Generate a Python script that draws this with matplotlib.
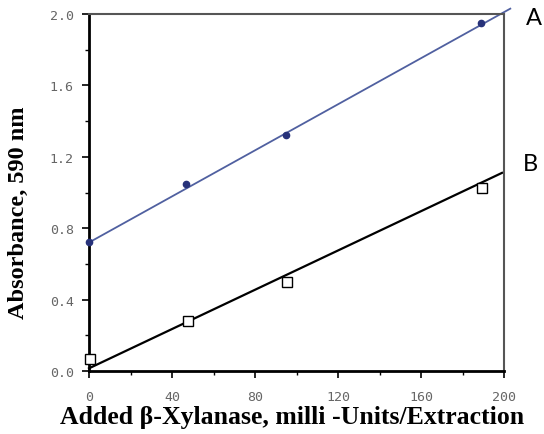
import numpy as np
import matplotlib.pyplot as plt
from matplotlib.ticker import MultipleLocator

xa = [0, 46.5, 95, 189]
ya = [0.72, 1.05, 1.32, 1.95]
xb = [0.5, 47.5, 95.4, 189.4]
yb = [0.067, 0.282, 0.50, 1.025]

line_ax = [0, 203]
line_ay = [0.72, 2.03]
line_bx = [0, 199]
line_by = [0.015, 1.11]

xticks = [0, 40, 80, 120, 160, 200]
yticks = [0.0, 0.4, 0.8, 1.2, 1.6, 2.0]

fig = plt.figure(figsize=(5.44, 4.35), dpi=100)
ax = fig.add_axes([0.1636, 0.1448, 0.763, 0.8207])

ax.plot(line_ax, line_ay, color="#5060a0", lw=1.3, clip_on=False, zorder=2)
ax.plot(xa, ya, "o", ms=4.5, color="#27327a", clip_on=False, zorder=3)
ax.plot(line_bx, line_by, color="black", lw=1.6, clip_on=False, zorder=2)
ax.plot(xb, yb, "s", ms=7, mfc="white", mec="black", mew=1.0, clip_on=False, zorder=3)

ax.set_xlim(0, 200)
ax.set_ylim(0, 2.0)
ax.set_xticks(xticks)
ax.set_yticks(yticks)
ax.set_xticklabels([str(v) for v in xticks])
ax.set_yticklabels([f"{v:.1f}" for v in yticks])
ax.xaxis.set_minor_locator(MultipleLocator(20))
ax.yaxis.set_minor_locator(MultipleLocator(0.2))
ax.tick_params(which="major", direction="out", length=5, width=1.2, color="black",
               labelsize=9.5, labelcolor="#666666", pad=6)
ax.tick_params(axis="x", which="major", pad=9)
ax.tick_params(which="minor", direction="out", length=3, width=1.0, color="black")
for lab in ax.get_xticklabels() + ax.get_yticklabels():
    lab.set_family("DejaVu Sans Mono")

ax.spines["left"].set_linewidth(2.0)
ax.spines["bottom"].set_linewidth(2.0)
ax.spines["top"].set_color("#555555")
ax.spines["right"].set_color("#555555")
ax.spines["top"].set_linewidth(1.5)
ax.spines["right"].set_linewidth(1.5)

ax.set_xlabel("Added β-Xylanase, milli -Units/Extraction", family="Liberation Serif",
              fontweight="bold", fontsize=18.5)
ax.set_ylabel("Absorbance, 590 nm", family="Liberation Serif",
              fontweight="bold", fontsize=17.5)
ax.xaxis.set_label_coords(0.489, -0.095)
ax.yaxis.set_label_coords(-0.145, 0.445)

ax.text(214.5, 1.98, "A", family="Lato", fontsize=17, ha="center", va="center", clip_on=False)
ax.text(212.5, 1.16, "B", family="Lato", fontsize=17, ha="center", va="center", clip_on=False)

fig.savefig("out.png", dpi=100)
